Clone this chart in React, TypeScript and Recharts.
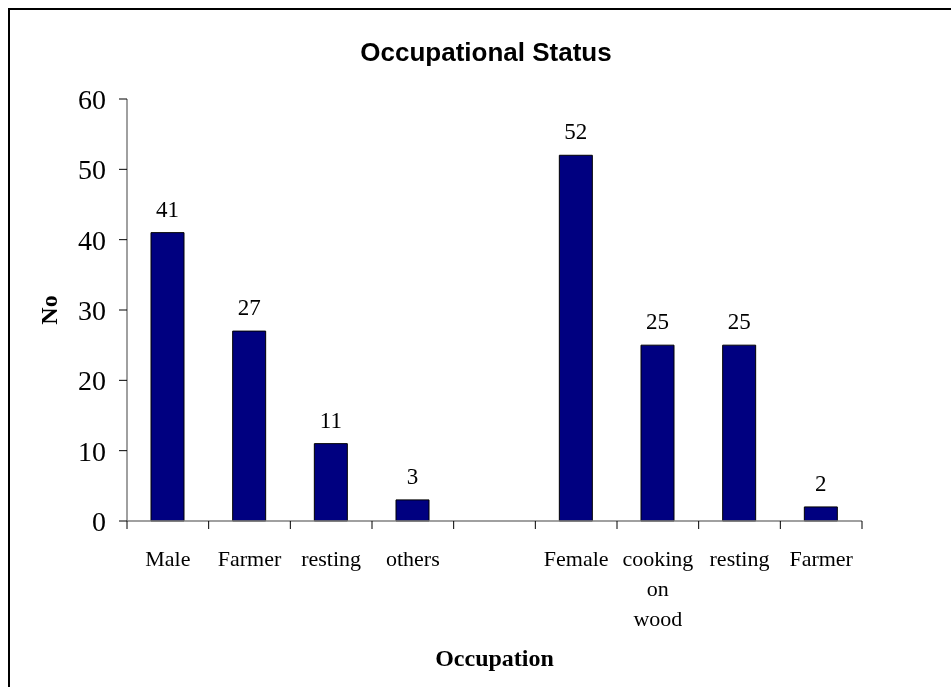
import React from 'react';
import { BarChart, Bar, XAxis, YAxis, LabelList } from 'recharts';

const categories = ['Male', 'Farmer', 'resting', 'others', '', 'Female', 'cooking on wood', 'resting', 'Farmer'];
const counts: (number | null)[] = [41, 27, 11, 3, null, 52, 25, 25, 2];
const yTicks = [0, 10, 20, 30, 40, 50, 60];
const chartTitle = 'Occupational Status';
const xTitle = 'Occupation';
const yTitle = 'No';

const data = categories.map((c, i) => ({ id: `c${i}`, label: c, value: counts[i] }));

const SERIF = "'Liberation Serif', 'Times New Roman', serif";
const SANS = "'Liberation Sans', Arial, sans-serif";

const W = 935;
const H = 671;
const TICK = 8;

const XTick = (props: any) => {
  const { x, y, payload, index } = props;
  const idx = data.findIndex((d) => d.id === payload.value);
  const label = idx >= 0 ? data[idx].label : '';
  const half = payload.offset || 0;
  const axisY = y - TICK;
  const lines = label ? label.split(' ') : [];
  const isLast = idx === data.length - 1;
  return (
    <g>
      <line x1={x - half} x2={x - half} y1={axisY} y2={axisY + TICK} stroke="#000" strokeWidth={1} />
      {isLast && (
        <line x1={x + half} x2={x + half} y1={axisY} y2={axisY + TICK} stroke="#000" strokeWidth={1} />
      )}
      {lines.length > 0 && (
        <text x={x} y={y + 37} textAnchor="middle" fontFamily={SERIF} fontSize={22} fill="#000">
          {lines.map((ln, i) => (
            <tspan key={i} x={x} dy={i === 0 ? 0 : 30}>
              {ln}
            </tspan>
          ))}
        </text>
      )}
    </g>
  );
};

export default function App() {
  return (
    <div style={{ position: 'relative', width: W, height: H }}>
      <div
        style={{
          position: 'fixed',
          left: 8,
          top: 8,
          width: 960,
          height: 700,
          borderLeft: '2px solid #000',
          borderTop: '2px solid #000',
          boxSizing: 'border-box',
          pointerEvents: 'none',
        }}
      />
      <div style={{ position: 'absolute', left: 0, top: 0 }}>
        <BarChart
          width={W}
          height={H}
          data={data}
          margin={{ top: 91, right: 81, left: 59, bottom: 98 }}
        >
          <XAxis
            dataKey="id"
            type="category"
            height={60}
            axisLine={{ stroke: '#808080', strokeWidth: 1.5 }}
            tickLine={false}
            tickSize={TICK}
            tickMargin={0}
            tick={<XTick />}
            interval={0}
          />
          <YAxis
            width={60}
            domain={[0, 60]}
            ticks={yTicks}
            interval={0}
            axisLine={{ stroke: '#808080', strokeWidth: 1.5 }}
            tickLine={{ stroke: '#000' }}
            tickSize={TICK}
            tickMargin={13}
            tick={{ fontFamily: SERIF, fontSize: 28, fill: '#000' }}
          />
          <Bar dataKey="value" fill="#000080" stroke="#000" strokeWidth={1} barSize={33} isAnimationActive={false}>
            <LabelList
              dataKey="value"
              position="top"
              offset={16}
              fontFamily={SERIF}
              fontSize={23}
              fill="#000"
            />
          </Bar>
        </BarChart>
      </div>
      <svg
        width={W}
        height={H}
        style={{ position: 'absolute', left: 0, top: 0, pointerEvents: 'none' }}
      >
        <text x={478} y={53} textAnchor="middle" fontFamily={SANS} fontWeight="bold" fontSize={26} fill="#000">
          {chartTitle}
        </text>
        <text
          transform="translate(48.5, 302) rotate(-90)"
          x={0}
          y={0}
          textAnchor="middle"
          fontFamily={SERIF}
          fontWeight="bold"
          fontSize={24}
          fill="#000"
        >
          {yTitle}
        </text>
        <text x={486.5} y={658} textAnchor="middle" fontFamily={SERIF} fontWeight="bold" fontSize={24} fill="#000">
          {xTitle}
        </text>
      </svg>
    </div>
  );
}
